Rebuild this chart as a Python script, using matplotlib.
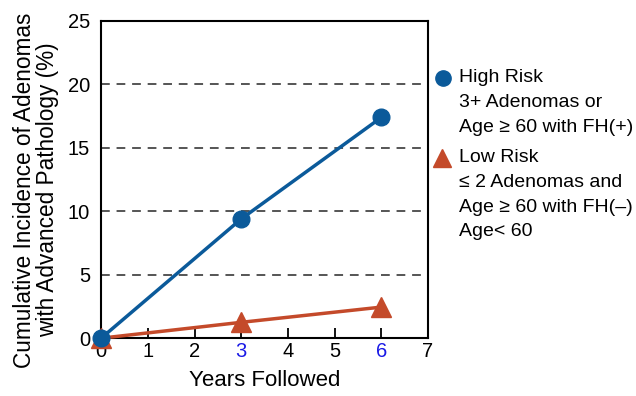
import matplotlib.pyplot as plt

plt.rcParams['font.family'] = ['Liberation Sans', 'DejaVu Sans']

years = [0, 3, 6]
high_risk = [0, 9.4, 17.4]
low_risk = [0, 1.25, 2.45]
yticks = [0, 5, 10, 15, 20, 25]
xticks = [0, 1, 2, 3, 4, 5, 6, 7]

blue = '#0b5a9a'
red = '#c44a2a'

fig = plt.figure(figsize=(6.36, 3.96), dpi=100)
fig.patch.set_facecolor('white')
ax = fig.add_axes([0.159, 0.146, 0.514, 0.801])
ax.set_xlim(0, 7)
ax.set_ylim(0, 25)

for y in [5, 10, 15, 20]:
    ax.axhline(y, color='#555555', lw=1.4, ls=(0, (4.5, 3.5)), zorder=1)

ax.plot(years, low_risk, color=red, lw=2.5, marker='^', ms=15, clip_on=False, zorder=3)
ax.plot(years, high_risk, color=blue, lw=2.5, marker='o', ms=12, clip_on=False, zorder=4)

for s in ax.spines.values():
    s.set_linewidth(1.5)
    s.set_color('black')

ax.set_xticks(xticks)
ax.set_xticklabels([str(x) for x in xticks])
ax.set_yticks(yticks)
ax.tick_params(axis='x', direction='in', length=7, width=1.3, labelsize=14.5, pad=3)
ax.tick_params(axis='y', length=0, labelsize=14.5, pad=8)
for lab in ax.get_xticklabels():
    if lab.get_text() in ('3', '6'):
        lab.set_color('#1a1ae6')

ax.set_xlabel('Years Followed', fontsize=16, labelpad=6)

# legend block and y label drawn in figure pixels
def fy(py):
    return 1 - py / 396

def fx(px):
    return px / 636

fig.text(fx(36), fy(190), 'Cumulative Incidence of Adenomas\nwith Advanced Pathology (%)',
         fontsize=16.3, rotation=90, ha='center', va='center', linespacing=1.0)

fig.add_artist(plt.Line2D([fx(443)], [fy(78)], marker='o', ms=11, color=blue,
                          transform=fig.transFigure))
fig.add_artist(plt.Line2D([fx(442)], [fy(158)], marker='^', ms=13, color=red,
                          transform=fig.transFigure))
hi_lines = ['High Risk', '3+ Adenomas or', 'Age \u2265 60 with FH(+)']
lo_lines = ['Low Risk', '\u2264 2 Adenomas and', 'Age \u2265 60 with FH(\u2013)', 'Age< 60']
for i, t in enumerate(hi_lines):
    fig.text(fx(459), fy(78 + i * 24.5), t, fontsize=14, va='center', ha='left')
for i, t in enumerate(lo_lines):
    fig.text(fx(459), fy(158 + i * 24.5), t, fontsize=14, va='center', ha='left')

plt.savefig('out.png', dpi=100, facecolor='white')
plt.close()
